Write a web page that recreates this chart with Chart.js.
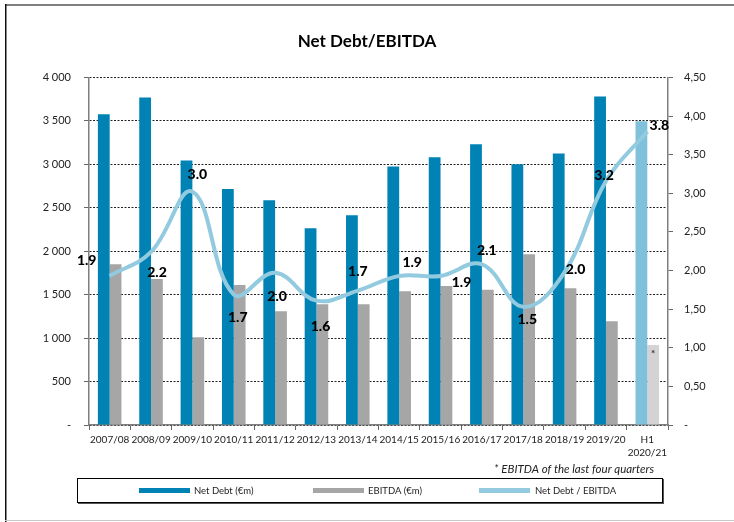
<!DOCTYPE html>
<html>
<head>
<meta charset="utf-8">
<script src="https://cdn.jsdelivr.net/npm/chart.js@4/dist/chart.umd.min.js"></script>
<style>
  html, body { margin: 0; padding: 0; background: #ffffff; }
  #wrap { width: 734px; height: 522px; position: relative; }
</style>
</head>
<body>
<div id="wrap"><canvas id="c" width="734" height="522"></canvas></div>
<script>
// ---- data ----
const categories = ['2007/08','2008/09','2009/10','2010/11','2011/12','2012/13','2013/14',
                    '2014/15','2015/16','2016/17','2017/18','2018/19','2019/20',['H1','2020/21']];
const netDebt = [3575, 3770, 3045, 2715, 2585, 2265, 2415, 2975, 3080, 3230, 3000, 3125, 3780, 3495];
const ebitda  = [1850, 1680, 1010, 1610, 1310, 1390, 1390, 1540, 1600, 1555, 1965, 1575, 1195, 920];
const ratio   = [1.93, 2.24, 3.02, 1.69, 1.97, 1.61, 1.74, 1.93, 1.93, 2.08, 1.53, 1.98, 3.16, 3.80];
const leftTicks = [0, 500, 1000, 1500, 2000, 2500, 3000, 3500, 4000];
const rightTicks = [0, 0.5, 1, 1.5, 2, 2.5, 3, 3.5, 4, 4.5];
const seriesNames = ['Net Debt (€m)', 'EBITDA (€m)', 'Net Debt / EBITDA'];
const footnote = '* EBITDA of the last four quarters';
const titleText = 'Net Debt/EBITDA';

Chart.defaults.font.family = 'Lato, "Open Sans", sans-serif';
Chart.defaults.color = '#222';

const BLUE = '#0082B4', BLUE_LIGHT = '#7FC0DA', GREY = '#A6A6A6', GREY_LIGHT = '#D3D3D3', LINE = '#92CADF';
const last = categories.length - 1;

const extras = {
  id: 'extras',
  beforeDraw(chart) {
    const ctx = chart.ctx;
    ctx.save();
    ctx.fillStyle = '#fff';
    ctx.fillRect(0, 0, chart.width, chart.height);
    ctx.fillStyle = '#7f7f7f';
    ctx.fillRect(5, 4, chart.width - 5, 2);
    ctx.fillStyle = '#111';
    ctx.fillRect(5, 4, 1.5, chart.height - 4);
    ctx.fillStyle = '#c8c8c8';
    ctx.fillRect(5, chart.height - 2, chart.width - 5, 1);
    ctx.restore();
  },
  afterDatasetsDraw(chart, args, opts) {
    const ctx = chart.ctx;
    ctx.save();
    const lineMeta = chart.getDatasetMeta(2);
    ctx.font = '900 14px Lato, sans-serif';
    ctx.fillStyle = '#000';
    ctx.textAlign = 'center';
    ctx.textBaseline = 'middle';
    lineMeta.data.forEach((pt, i) => {
      const o = opts.offsets[i];
      ctx.fillText(chart.data.datasets[2].data[i].toFixed(1), pt.x + o[0], pt.y + o[1]);
    });
    const eb = chart.getDatasetMeta(1).data[last];
    ctx.font = 'bold 10px Lato, sans-serif';
    ctx.fillStyle = '#333';
    ctx.fillText('*', eb.x, eb.y + 9);
    ctx.restore();
  },
  afterDraw(chart, args, opts) {
    const ctx = chart.ctx;
    ctx.save();
    ctx.font = 'italic 11.5px Lato, sans-serif';
    ctx.fillStyle = '#222';
    ctx.textAlign = 'right';
    ctx.textBaseline = 'middle';
    ctx.fillText(footnote, 654, 469);
    ctx.strokeStyle = '#000';
    ctx.lineWidth = 1;
    ctx.strokeRect(77.5, 478.5, 585, 24);
    ctx.fillStyle = '#555';
    ctx.fillRect(663, 479, 1, 25);
    ctx.fillRect(78, 503, 586, 1);
    const items = [[139, 194], [313, 368], [479, 535]];
    const colors = [BLUE, GREY, LINE];
    ctx.font = '9.5px Lato, sans-serif';
    ctx.textAlign = 'left';
    items.forEach((it, i) => {
      ctx.fillStyle = colors[i];
      ctx.fillRect(it[0], 488, 51, 5);
      ctx.fillStyle = '#222';
      ctx.fillText(chart.data.datasets[i].label, it[1], 491);
    });
    ctx.restore();
  }
};

const fmtLeft = v => v === 0 ? '-' : String(v).replace(/\B(?=(\d{3})+(?!\d))/g, '\u00a0');
const fmtRight = v => v === 0 ? '-' : v.toFixed(2).replace('.', ',');

new Chart(document.getElementById('c'), {
  data: {
    labels: categories,
    datasets: [
      {
        type: 'bar', label: seriesNames[0], data: netDebt, yAxisID: 'y', order: 2,
        backgroundColor: netDebt.map((v, i) => i === last ? BLUE_LIGHT : BLUE),
        categoryPercentage: 0.57, barPercentage: 1.0
      },
      {
        type: 'bar', label: seriesNames[1], data: ebitda, yAxisID: 'y', order: 2,
        backgroundColor: ebitda.map((v, i) => i === last ? GREY_LIGHT : GREY),
        categoryPercentage: 0.57, barPercentage: 1.0
      },
      {
        type: 'line', label: seriesNames[2], data: ratio, yAxisID: 'y1', order: 0,
        borderColor: LINE, backgroundColor: LINE, borderWidth: 4, tension: 0.4,
        pointRadius: 0, fill: false
      }
    ]
  },
  options: {
    responsive: false,
    animation: false,
    devicePixelRatio: 1,
    layout: { padding: 0 },
    plugins: {
      legend: { display: false },
      tooltip: { enabled: false },
      title: {
        display: true, text: titleText, color: '#000',
        font: { size: 17, weight: 'bold' },
        padding: { top: 31, bottom: 26 }
      },
      extras: {
        offsets: [[-23,-15],[6,21],[5,-17],[4,23],[2,24],[4,26],[0,-19],[13,-13],[21,7],[5,-14],[4,13],[11,-3],[-2,-5],[12,-6]]
      }
    },
    scales: {
      x: {
        type: 'category',
        grid: { display: true, offset: true, drawOnChartArea: false, drawTicks: true, tickLength: 5, tickColor: '#666', tickWidth: 1 },
        border: { display: true, color: '#7f7f7f', width: 1.5 },
        ticks: { maxRotation: 0, autoSkip: false, padding: 3, font: { size: 10, lineHeight: 1.3 }, color: '#222' },
        afterFit(s) { s.height = 97; }
      },
      y: {
        position: 'left', min: 0, max: 4000,
        afterBuildTicks(s) { s.ticks = leftTicks.map(v => ({ value: v })); },
        ticks: { callback: fmtLeft, padding: 13, font: { size: 11 }, color: '#222' },
        grid: { color: '#222', lineWidth: 1, drawTicks: true, tickLength: 5, tickColor: '#666', tickWidth: 1 },
        border: { display: true, color: '#7f7f7f', width: 1.5, dash: [2, 1.5] },
        afterFit(s) { s.width = 89; }
      },
      y1: {
        position: 'right', min: 0, max: 4.5,
        afterBuildTicks(s) { s.ticks = rightTicks.map(v => ({ value: v })); },
        ticks: { callback: fmtRight, padding: 11, font: { size: 11 }, color: '#222' },
        grid: { drawOnChartArea: false, drawTicks: true, tickLength: 5, tickColor: '#666', tickWidth: 1 },
        border: { display: true, color: '#7f7f7f', width: 1.5 },
        afterFit(s) { s.width = 66; }
      }
    }
  },
  plugins: [extras]
});
</script>
</body>
</html>
